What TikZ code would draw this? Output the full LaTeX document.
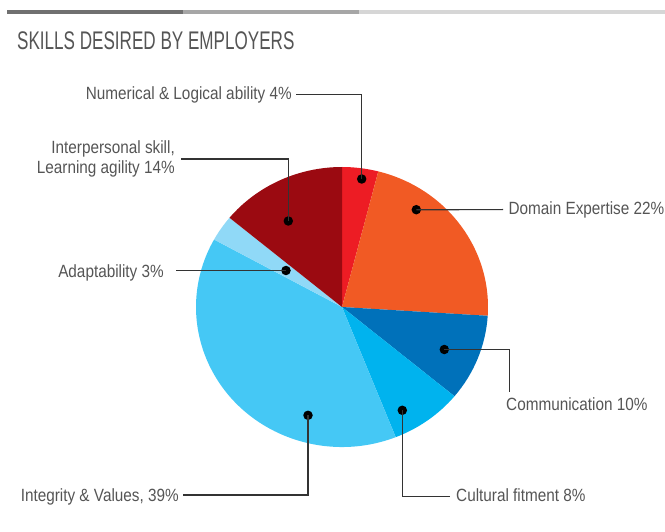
\documentclass[tikz,border=0pt]{standalone}
\usepackage{fontspec}
\setmainfont[FakeStretch=0.865]{Liberation Sans}
\newfontfamily\titlefont[FakeStretch=0.67]{Liberation Sans}
\definecolor{barA}{HTML}{707070}
\definecolor{barB}{HTML}{A6A6A6}
\definecolor{barC}{HTML}{D6D6D6}
\definecolor{txt}{HTML}{555555}
\definecolor{lead}{HTML}{333333}
\definecolor{cNum}{HTML}{ED1C24}
\definecolor{cDom}{HTML}{F15A24}
\definecolor{cCom}{HTML}{0071BA}
\definecolor{cCul}{HTML}{00B3EE}
\definecolor{cInt}{HTML}{45C8F5}
\definecolor{cAda}{HTML}{90D9F7}
\definecolor{cPer}{HTML}{9B0A11}
\begin{document}
\begin{tikzpicture}[x=1pt,y=1pt,
  lbl/.style={inner sep=0pt, text=txt, font=\fontsize{17.7}{21}\selectfont},
  dotmark/.style={circle, fill=black, inner sep=0pt, minimum size=9.5pt},
  leader/.style={draw=lead, line width=1.2pt},
  pieR/.style={x radius=146, y radius=140}]
\useasboundingbox (0,0) rectangle (665,-532);
% top bar
\fill[barA] (7,-10.3) rectangle (183,-14);
\fill[barB] (183,-10.3) rectangle (359,-14);
\fill[barC] (359,-10.3) rectangle (665,-14);
% title
\node[inner sep=0pt, anchor=base west, text=txt, font=\titlefont\fontsize{25.5}{30}\selectfont] (title) at (17,-50) {SKILLS DESIRED BY EMPLOYERS};
% pie
\coordinate (C) at (342,-307);
\fill[cNum] (C) -- ++(90:146 and 140) arc[pieR, start angle=90, end angle=75.6] -- cycle;
\fill[cDom] (C) -- ++(75.6:146 and 140) arc[pieR, start angle=75.6, end angle=-3.6] -- cycle;
\fill[cCom] (C) -- ++(-3.6:146 and 140) arc[pieR, start angle=-3.6, end angle=-39.6] -- cycle;
\fill[cCul] (C) -- ++(-39.6:146 and 140) arc[pieR, start angle=-39.6, end angle=-68.4] -- cycle;
\fill[cInt] (C) -- ++(-68.4:146 and 140) arc[pieR, start angle=-68.4, end angle=-208.8] -- cycle;
\fill[cAda] (C) -- ++(-208.8:146 and 140) arc[pieR, start angle=-208.8, end angle=-219.6] -- cycle;
\fill[cPer] (C) -- ++(-219.6:146 and 140) arc[pieR, start angle=-219.6, end angle=-270] -- cycle;
% labels
\node[lbl, anchor=base east] (lNum) at (292,-100) {Numerical \& Logical ability 4\%};
\node[lbl, anchor=base east] (lPerA) at (175,-153.3) {Interpersonal skill,};
\node[lbl, anchor=base east] (lPerB) at (175,-174) {Learning agility 14\%};
\node[lbl, anchor=base east] (lAda) at (164,-277) {Adaptability 3\%};
\node[lbl, anchor=base east] (lDom) at (664.5,-215) {Domain Expertise 22\%};
\node[lbl, anchor=base west] (lCom) at (506,-410.7) {Communication 10\%};
\node[lbl, anchor=base west] (lCul) at (456,-501) {Cultural fitment 8\%};
\node[lbl, anchor=base east] (lInt) at (179,-501.5) {Integrity \& Values, 39\%};
% leader ends
\coordinate (eNum) at (296,-94.3);
\coordinate (ePer) at (181,-159);
\coordinate (eAda) at (175.7,-270.5);
\coordinate (eDom) at (503,-209.6);
\coordinate (eCom) at (509.3,-391.7);
\coordinate (eCul) at (450,-496.2);
\coordinate (eInt) at (183.3,-495);
% dots
\node[dotmark] (dNum) at (361.7,-179) {};
\node[dotmark] (dPer) at (288.3,-221) {};
\node[dotmark] (dAda) at (286,-270.5) {};
\node[dotmark] (dDom) at (416.3,-209.7) {};
\node[dotmark] (dCom) at (444.3,-349.5) {};
\node[dotmark] (dCul) at (402.3,-410.3) {};
\node[dotmark] (dInt) at (308,-415.3) {};
% leaders
\draw[leader] (dNum.center) |- (eNum);
\draw[leader] (dPer.center) |- (ePer);
\draw[leader] (dAda.center) -- (eAda);
\draw[leader] (dDom.center) -- (eDom);
\draw[leader] (dCom.center) -| (eCom);
\draw[leader] (dCul.center) |- (eCul);
\draw[leader] (dInt.center) |- (eInt);
\end{tikzpicture}
\end{document}
